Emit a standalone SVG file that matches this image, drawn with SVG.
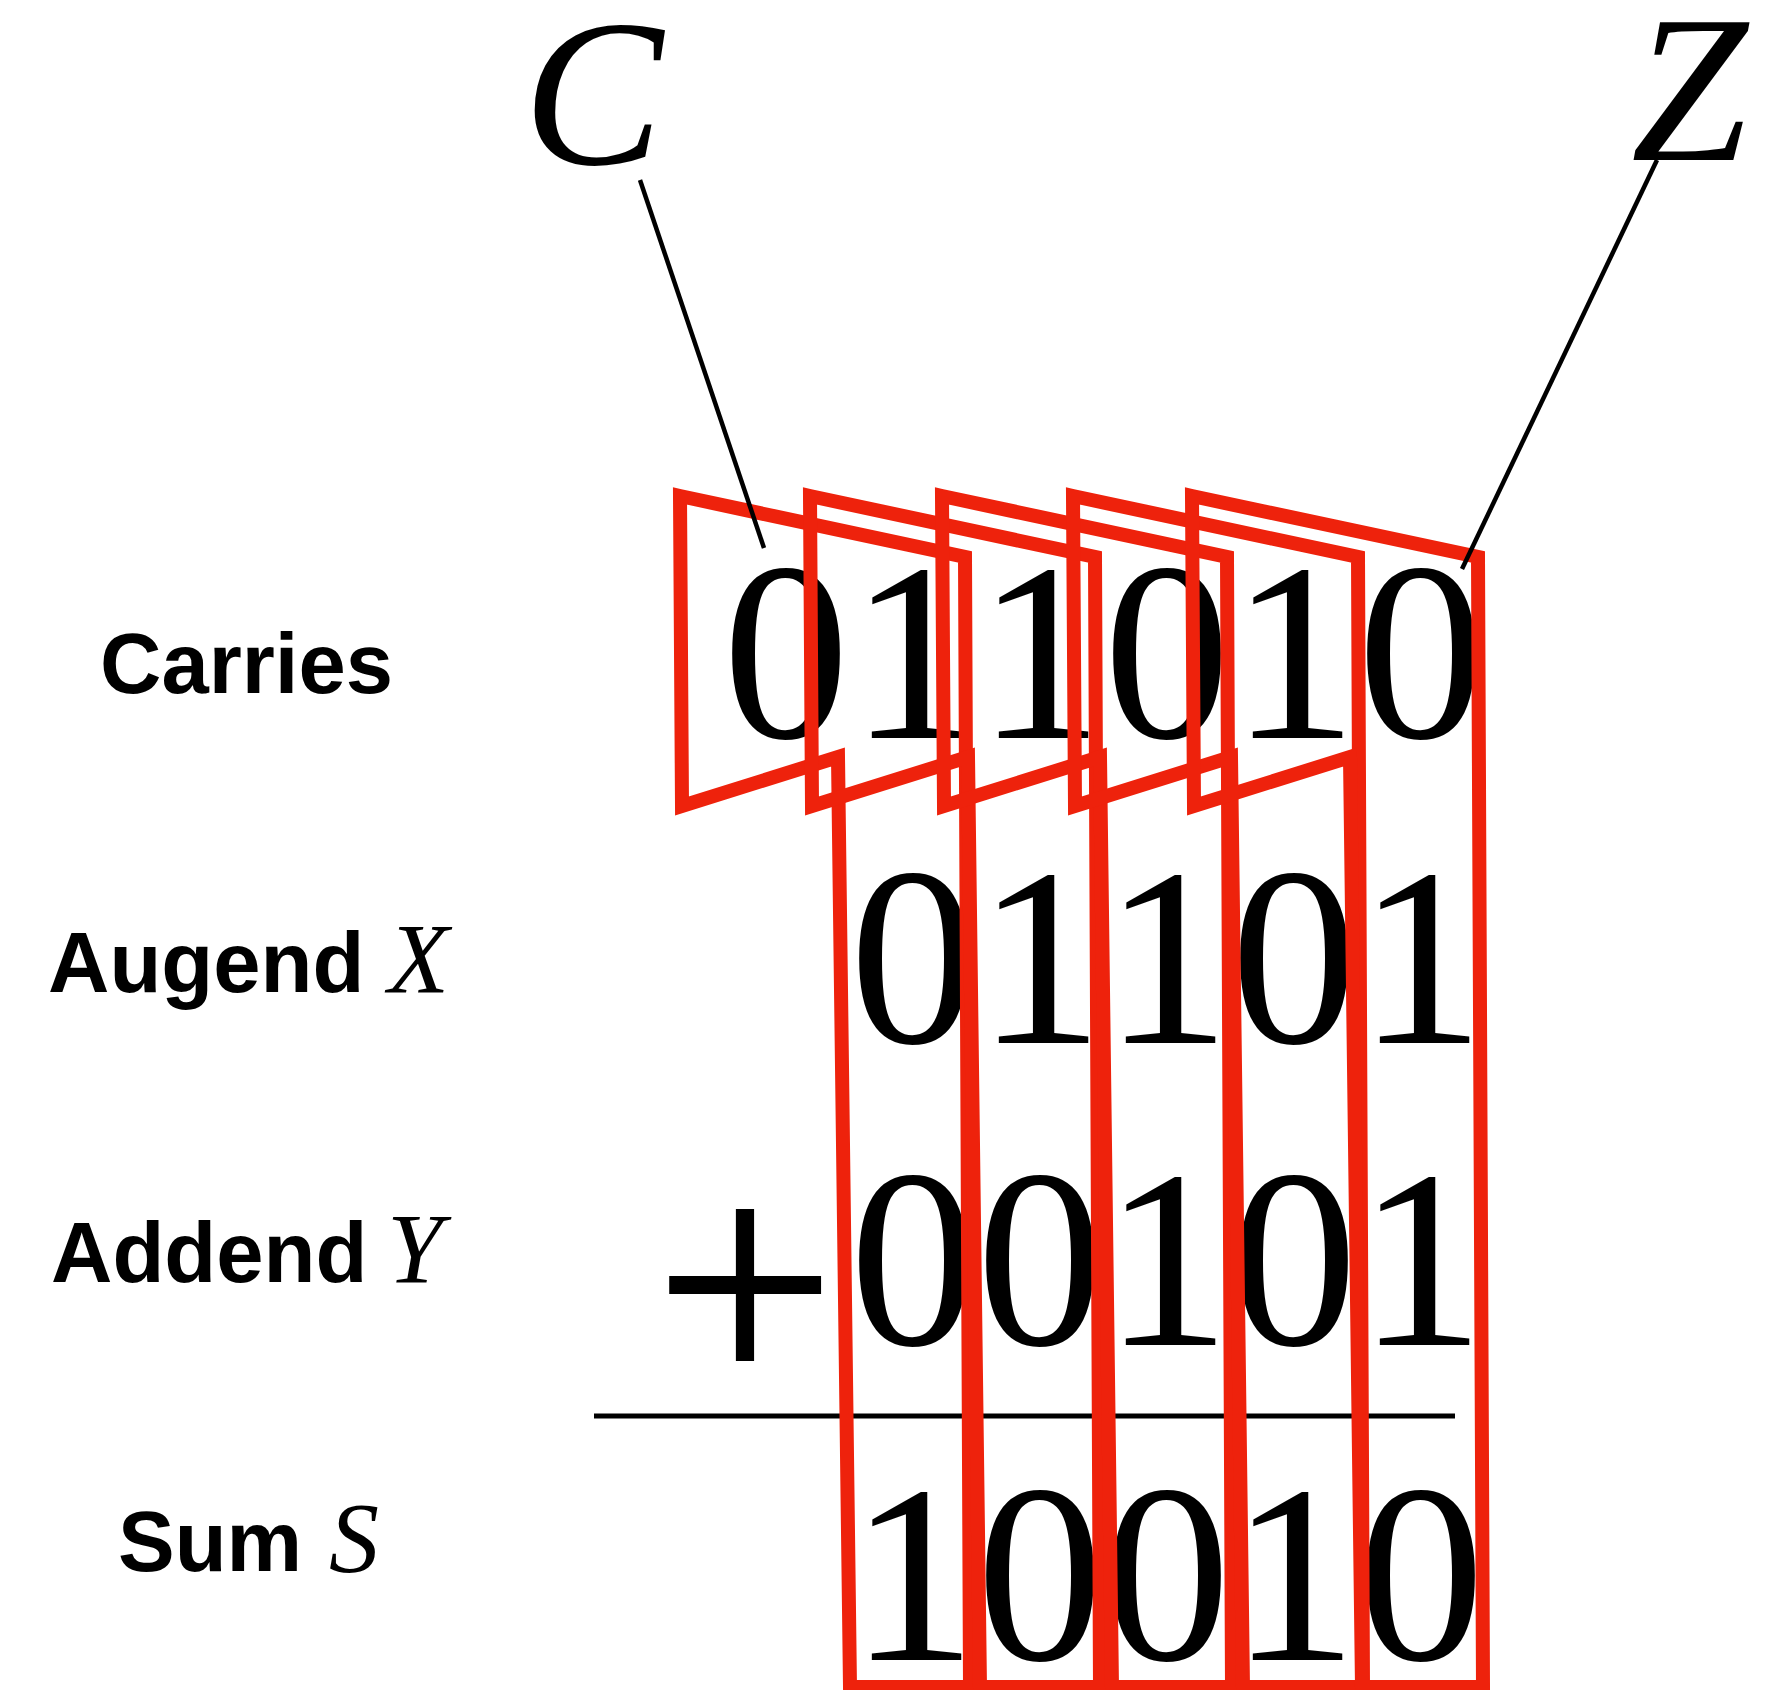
<svg xmlns="http://www.w3.org/2000/svg" width="1768" height="1690" viewBox="0 0 1768 1690">
<style>
.lab{font-family:"Liberation Sans",Arial,sans-serif;font-weight:bold;font-size:85px;fill:#000}
.var{font-family:"Liberation Serif","Times New Roman",serif;font-style:italic;font-size:100px;fill:#000}
.big{font-family:"Liberation Serif","Times New Roman",serif;font-style:italic;font-size:210px;fill:#000}
.dig{font-family:"Liberation Serif","Times New Roman",serif;font-size:254px;fill:#000;text-anchor:middle}
.plus{font-family:"Liberation Serif","Times New Roman",serif;font-size:322px;fill:#000;stroke:#000;stroke-width:2;text-anchor:middle}
.fa{fill:none;stroke:#EE220C;stroke-width:14;stroke-linejoin:miter;stroke-miterlimit:10}
.ln{stroke:#000;stroke-width:4.5;fill:none}
</style>
<rect width="1768" height="1690" fill="#fff"/>
<g id="labels">
<text class="lab" x="100" y="693">Carries</text>
<text class="lab" x="48" y="992">Augend</text><text class="var" x="388" y="992">X</text>
<text class="lab" x="51" y="1282">Addend</text><text class="var" x="387" y="1282">Y</text>
<text class="lab" x="118" y="1571">Sum</text><text class="var" x="329" y="1571">S</text>
</g>
<g id="title-C"><text class="big" x="523" y="164">C</text></g>
<g id="title-Z"><text class="big" x="1631" y="160">Z</text></g>
<g id="carries"><text class="dig" x="786 913 1040 1167 1294 1421" y="738">011010</text></g>
<g id="augend"><text class="dig" x="913 1040 1167 1294 1421" y="1043">01101</text></g>
<g id="addend"><text class="dig" x="913 1040 1167 1294 1421" y="1345">00101</text>
<text class="plus" x="745" y="1392">+</text></g>
<g id="rule"><line class="ln" x1="594" y1="1416" x2="1455" y2="1416" style="stroke-width:5"/></g>
<g id="sum"><text class="dig" x="913 1040 1167 1294 1421" y="1660">10010</text></g>
<g id="adder1"><polygon class="fa" points="680,496 965,557 970,1687 850,1687 838,757 682,806"/></g>
<g id="adder2"><polygon class="fa" points="810,496 1095,557 1100,1687 980,1687 968,757 812,806"/></g>
<g id="adder3"><polygon class="fa" points="942,496 1227,557 1232,1687 1112,1687 1100,757 944,806"/></g>
<g id="adder4"><polygon class="fa" points="1073,496 1358,557 1363,1687 1243,1687 1231,757 1075,806"/></g>
<g id="adder5"><polygon class="fa" points="1192,496 1478,557 1483,1687 1362,1687 1350,757 1194,806"/></g>
<g id="connectors">
<line class="ln" x1="640" y1="180" x2="764" y2="548"/>
<line class="ln" x1="1657" y1="160" x2="1462" y2="569"/>
</g>
</svg>
